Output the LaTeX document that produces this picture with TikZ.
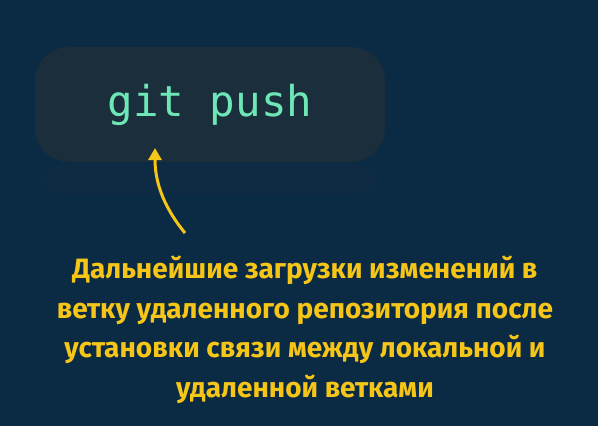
\documentclass[tikz,border=0pt]{standalone}
\usepackage{fontspec}
\setmainfont{Fira Sans}
\setmonofont{DejaVu Sans Mono}
\usetikzlibrary{arrows.meta}
\definecolor{bgblue}{HTML}{0B2A44}
\definecolor{boxgray}{HTML}{1B2E3C}
\definecolor{mint}{HTML}{6EE7B7}
\definecolor{gold}{HTML}{F5C518}
\begin{document}
\begin{tikzpicture}[x=1pt,y=-1pt,
    cmdbox/.style={fill=boxgray,rounded corners=34pt,minimum width=350pt,minimum height=115pt,
      text=mint,font=\ttfamily\fontsize{42.5}{48}\selectfont},
    note/.style={text=gold,align=center,font=\bfseries\fontsize{28}{39.7}\selectfont}]
        \useasboundingbox[fill=bgblue] (0,0) rectangle (598,426);
        \fill[boxgray!18!bgblue,rounded corners=20pt] (42,165) rectangle (378,195);
        \node[cmdbox] (cmd) at (210,104.5) {git push};
        \node[note] (note) at (305,330) {Дальнейшие загрузки изменений в\\ветку удаленного репозитория после\\установки связи между локальной и\\удаленной ветками};
        \coordinate (tail) at (185,233);
        \coordinate (tip) at (155,148);
        \draw[gold,line width=3pt,-{Triangle[length=12pt,width=13pt]}] (tail) .. controls (162,205) and (155,180) .. (tip);
    \end{tikzpicture}
\end{document}
